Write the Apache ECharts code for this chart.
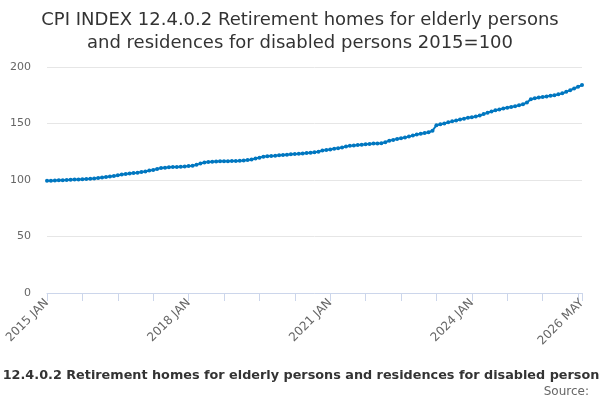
<!DOCTYPE html>
<html>
<head>
<meta charset="utf-8">
<script src="https://cdn.jsdelivr.net/npm/echarts@6/dist/echarts.min.js"></script>
<style>html,body{margin:0;padding:0;background:#fff}#c{width:600px;height:400px}</style>
</head>
<body>
<div id="c"></div>
<script>
var titleText = "CPI INDEX 12.4.0.2 Retirement homes for elderly persons\nand residences for disabled persons 2015=100";
var subtitleText = "CPI INDEX 12.4.0.2 Retirement homes for elderly persons and residences for disabled persons 2015=100";
var sourceText = "Source:";
var years = [2015,2016,2017,2018,2019,2020,2021,2022,2023,2024,2025,2026];
var monthNames = ["JAN","FEB","MAR","APR","MAY","JUN","JUL","AUG","SEP","OCT","NOV","DEC"];
var lastMonthCount = 5;
var yTicks = [0,50,100,150,200];
var values = [
  99.3, 99.4, 99.5, 99.7, 99.8, 100.0, 100.2, 100.4, 100.5, 100.7, 100.9, 101.0,
  101.3, 101.7, 102.2, 102.6, 103.1, 103.6, 104.2, 104.8, 105.3, 105.7, 106.1, 106.5,
  107.0, 107.6, 108.3, 108.8, 109.8, 110.6, 110.9, 111.2, 111.4, 111.6, 111.8, 112.0,
  112.3, 112.6, 113.4, 114.5, 115.5, 115.9, 116.1, 116.3, 116.5, 116.6, 116.7, 116.8,
  116.9, 117.0, 117.2, 117.6, 118.2, 119.0, 119.8, 120.5, 121.0, 121.3, 121.5, 121.8,
  122.1, 122.4, 122.7, 123.0, 123.2, 123.5, 123.8, 124.2, 124.6, 125.0, 126.0, 126.5,
  127.0, 127.6, 128.2, 128.8, 129.6, 130.2, 130.6, 131.0, 131.3, 131.6, 131.9, 132.2,
  132.4, 132.6, 133.5, 134.8, 135.5, 136.2, 136.9, 137.6, 138.4, 139.3, 140.2, 141.0,
  141.6, 142.3, 143.6, 148.5, 149.3, 150.0, 151.0, 151.9, 152.7, 153.5, 154.3, 155.0,
  155.6, 156.3, 157.1, 158.3, 159.6, 160.6, 161.7, 162.4, 163.2, 163.9, 164.6, 165.3,
  166.1, 167.0, 168.6, 171.5, 172.4, 173.0, 173.5, 174.0, 174.5, 175.0, 175.8, 176.7,
  178.0, 179.5, 181.0, 182.5, 184.0
];

var categories = [];
years.forEach(function (y, i) {
  var n = (i === years.length - 1) ? lastMonthCount : 12;
  for (var m = 0; m < n; m++) categories.push(y + " " + monthNames[m]);
});
var lastIdx = categories.length - 1;

var chart = echarts.init(document.getElementById('c'), null, {renderer: 'canvas'});
chart.setOption({
  animation: false,
  title: {
    text: titleText,
    left: 'center',
    top: 4,
    textStyle: {
      fontFamily: 'DejaVu Sans',
      fontSize: 18,
      fontWeight: 'normal',
      color: '#333333',
      lineHeight: 23
    }
  },
  graphic: [
    {
      type: 'text',
      x: 305,
      y: 376,
      style: {
        text: subtitleText,
        x: 0,
        y: 0,
        align: 'center',
        verticalAlign: 'middle',
        fontFamily: 'DejaVu Sans',
        fontSize: 12.8,
        fontWeight: 'bold',
        fill: '#333333'
      }
    },
    {
      type: 'text',
      x: 589,
      y: 392,
      style: {
        text: sourceText,
        x: 0,
        y: 0,
        align: 'right',
        verticalAlign: 'middle',
        fontFamily: 'DejaVu Sans',
        fontSize: 12,
        fill: '#666666'
      }
    }
  ],
  grid: {left: 47, right: 18, top: 67, bottom: 107, containLabel: false},
  xAxis: {
    type: 'category',
    data: categories,
    boundaryGap: false,
    axisLine: {lineStyle: {color: '#ccd6eb'}},
    axisTick: {
      lineStyle: {color: '#ccd6eb'},
      length: 8,
      interval: function (i) { return i % 9 === 0 || i === lastIdx; }
    },
    axisLabel: {
      rotate: 45,
      color: '#666666',
      fontFamily: 'DejaVu Sans',
      fontSize: 12,
      margin: 8,
      interval: function (i) { return i % 36 === 0 || i === lastIdx; }
    },
    splitLine: {show: false}
  },
  yAxis: {
    type: 'value',
    min: yTicks[0],
    max: yTicks[yTicks.length - 1],
    interval: yTicks[1] - yTicks[0],
    axisLine: {show: false},
    axisTick: {show: false},
    axisLabel: {color: '#666666', fontFamily: 'DejaVu Sans', fontSize: 11, margin: 16},
    splitLine: {lineStyle: {color: '#e6e6e6'}}
  },
  series: [{
    type: 'line',
    data: values,
    symbol: 'circle',
    symbolSize: 4,
    showAllSymbol: true,
    lineStyle: {color: '#0077c0', width: 2},
    itemStyle: {color: '#0077c0'}
  }]
});
</script>
</body>
</html>
